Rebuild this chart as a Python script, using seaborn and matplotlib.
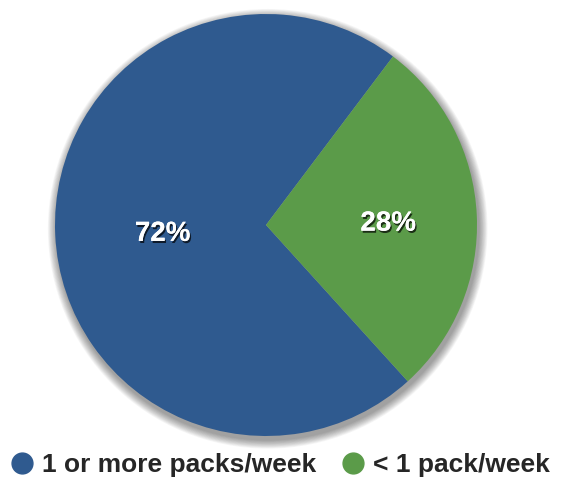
import numpy as np
import matplotlib
matplotlib.use("Agg")
import matplotlib.pyplot as plt
import matplotlib.patheffects as pe
from matplotlib.patches import Circle
from matplotlib.lines import Line2D
import seaborn as sns

categories = ["1 or more packs/week", "< 1 pack/week"]
shares = [72, 28]
colors = ["#2f5a8f", "#5b9b49"]
label_dist = [0.49, 0.58]

sns.set_theme(style="white")
plt.rcParams["font.family"] = ["Liberation Sans", "DejaVu Sans"]

fig = plt.figure(figsize=(5.64, 4.80), dpi=100)
ax = fig.add_axes([55 / 564, 43 / 480, 422 / 564, 424 / 480])

# soft drop shadow under the disc
for i in range(12):
    r = 1.0 + 0.0035 * (12 - i)
    ax.add_patch(Circle((0.008, -0.018), r, color="black", alpha=0.035,
                        lw=0, zorder=0, clip_on=False))

wedges, texts, pcts = ax.pie(
    shares,
    colors=colors,
    startangle=53,
    counterclock=True,
    autopct=lambda p: f"{p:.0f}%",
    radius=1.0,
    wedgeprops=dict(linewidth=0),
    textprops=dict(color="white", fontsize=20, fontweight="bold"),
)
for w in wedges:
    w.set_zorder(2)
for w, t, d in zip(wedges, pcts, label_dist):
    mid = np.deg2rad((w.theta1 + w.theta2) / 2)
    t.set_position((d * np.cos(mid), d * np.sin(mid) - 0.02))
    t.set_zorder(3)
    t.set_path_effects([
        pe.withSimplePatchShadow(offset=(1, -1.5), shadow_rgbFace="black", alpha=0.7),
        pe.Normal(),
    ])
ax.set_aspect("equal")
ax.set_xlim(-1.0, 1.0)
ax.set_ylim(-1.0, 1.0)
ax.axis("off")

handles = [
    Line2D([], [], marker="o", linestyle="none", markersize=15,
           markerfacecolor=c, markeredgecolor=c)
    for c in colors
]
fig.legend(
    handles, categories,
    loc="center", bbox_to_anchor=(0.5 - 4 / 564, 1 - 465 / 480),
    ncol=2, frameon=False, handletextpad=0.15, columnspacing=0.8,
    handlelength=1.2, borderaxespad=0, borderpad=0,
    prop=dict(size=19.0, weight="bold"),
)

fig.savefig("out.png", dpi=100, facecolor="white")
